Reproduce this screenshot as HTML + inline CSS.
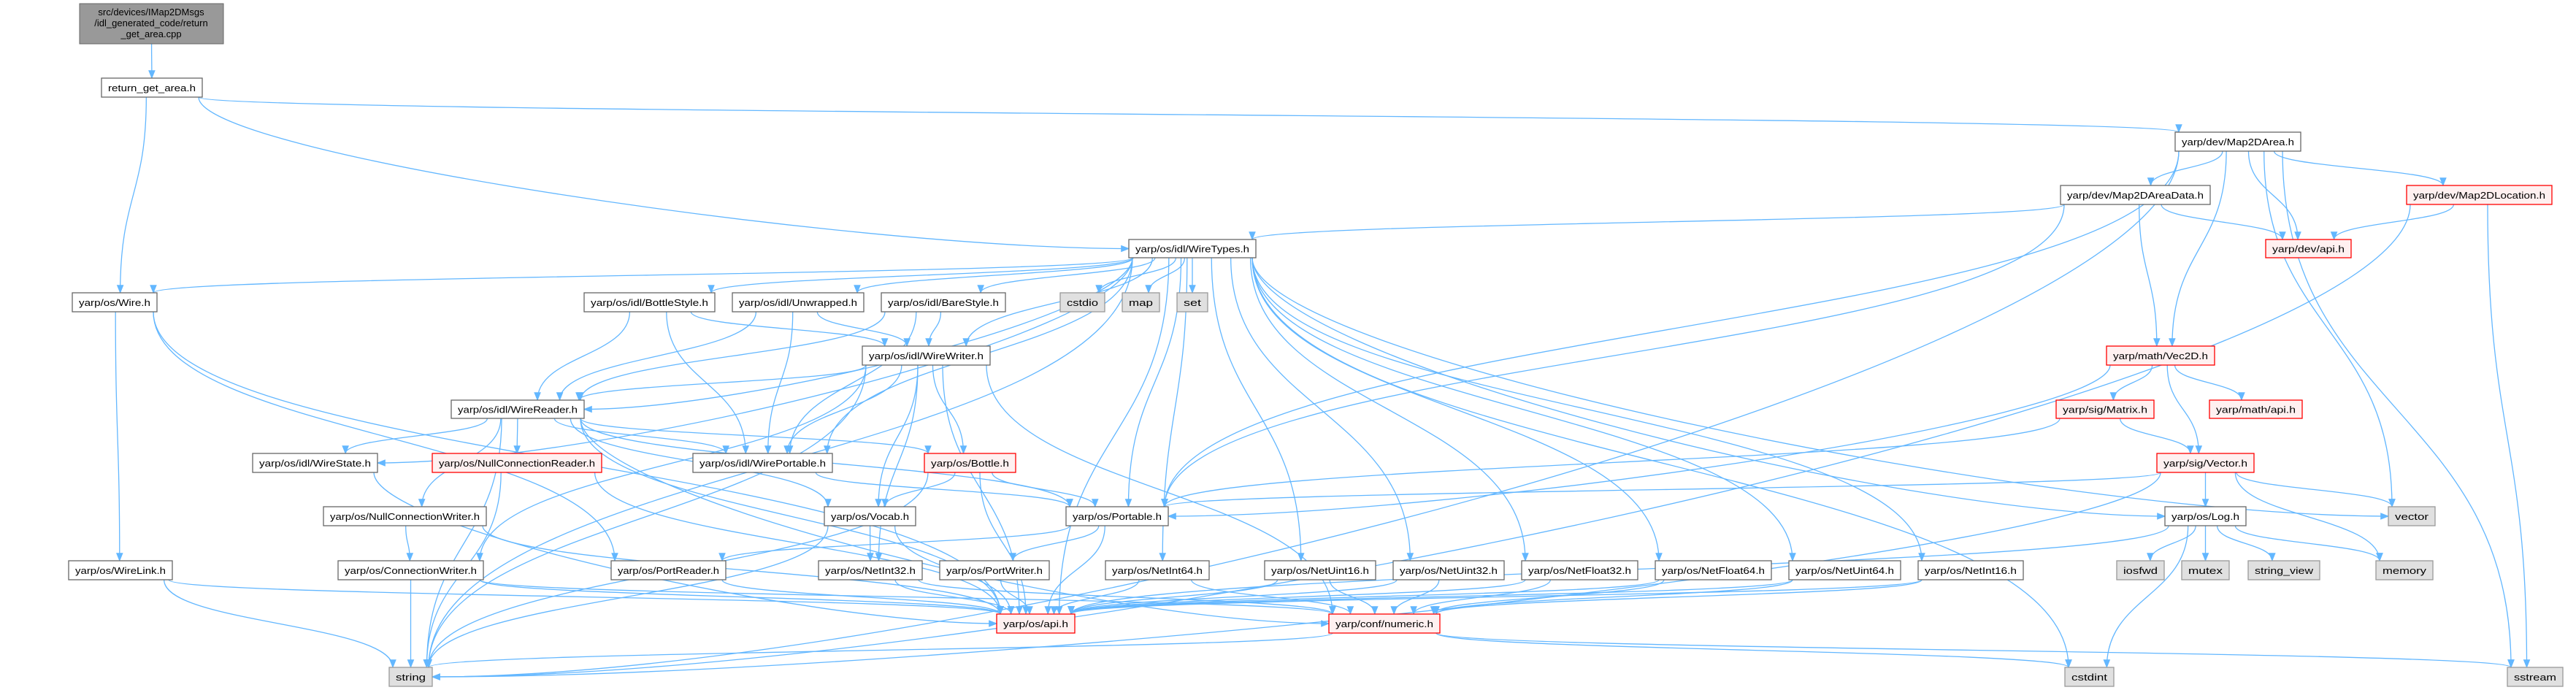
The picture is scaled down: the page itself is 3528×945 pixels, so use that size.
<!DOCTYPE html>
<html><head><meta charset="utf-8"><style>
html,body{margin:0;padding:0;background:#fff;width:3528px;height:945px;overflow:hidden}
svg{display:block}
text{font-family:"Liberation Sans","DejaVu Sans",sans-serif;font-size:13px;fill:#000}
</style></head><body>
<svg id="g" width="3528" height="945" viewBox="0 0 3528 945" xmlns="http://www.w3.org/2000/svg">
<defs><marker id="a" viewBox="0 0 10 10" refX="9" refY="5" markerWidth="12" markerHeight="12" markerUnits="userSpaceOnUse" orient="auto"><path d="M0,1 L10,5 L0,9 z" fill="#63b7ff"/></marker></defs>
<g id="edges" fill="none" stroke="#63b7ff" stroke-width="1.3"></g>
<g id="nodes">
<rect x="109" y="5" width="197" height="55" fill="#999" stroke="#666"/>
<text x="207" y="21" text-anchor="middle">src/devices/IMap2DMsgs</text>
<text x="207" y="36" text-anchor="middle">/idl_generated_code/return</text>
<text x="207" y="51" text-anchor="middle">_get_area.cpp</text>
</g>
</svg>
<script>
var N={
rga:["return_get_area.h",139,107,277,133,0],
wire:["yarp/os/Wire.h",99,401,215,427,0],
m2a:["yarp/dev/Map2DArea.h",2979,181,3151,207,0],
m2ad:["yarp/dev/Map2DAreaData.h",2822,254,3027,280,0],
m2l:["yarp/dev/Map2DLocation.h",3296,254,3495,280,1],
devapi:["yarp/dev/api.h",3103,328,3220,353,1],
wt:["yarp/os/idl/WireTypes.h",1546,328,1720,353,0],
bs:["yarp/os/idl/BottleStyle.h",800,401,979,427,0],
unw:["yarp/os/idl/Unwrapped.h",1003,401,1183,427,0],
bare:["yarp/os/idl/BareStyle.h",1207,401,1377,427,0],
cstdio:["cstdio",1452,401,1513,427,2],
map:["map",1537,401,1588,427,2],
set:["set",1612,401,1654,427,2],
ww:["yarp/os/idl/WireWriter.h",1181,474,1356,500,0],
vec2d:["yarp/math/Vec2D.h",2885,474,3033,500,1],
wr:["yarp/os/idl/WireReader.h",618,548,800,573,0],
matrix:["yarp/sig/Matrix.h",2816,548,2950,573,1],
mathapi:["yarp/math/api.h",3026,548,3153,573,1],
ws:["yarp/os/idl/WireState.h",346,621,517,647,0],
ncr:["yarp/os/NullConnectionReader.h",592,621,824,647,1],
wp:["yarp/os/idl/WirePortable.h",949,621,1140,647,0],
bottle:["yarp/os/Bottle.h",1266,621,1391,647,1],
vector:["yarp/sig/Vector.h",2954,621,3087,647,1],
ncw:["yarp/os/NullConnectionWriter.h",443,694,666,720,0],
vocab:["yarp/os/Vocab.h",1129,694,1254,720,0],
portable:["yarp/os/Portable.h",1460,694,1600,720,0],
log:["yarp/os/Log.h",2965,694,3076,720,0],
svector:["vector",3271,694,3335,720,2],
wl:["yarp/os/WireLink.h",94,768,236,794,0],
cw:["yarp/os/ConnectionWriter.h",463,768,662,794,0],
pr:["yarp/os/PortReader.h",837,768,994,794,0],
ni32:["yarp/os/NetInt32.h",1121,768,1263,794,0],
pw:["yarp/os/PortWriter.h",1287,768,1437,794,0],
ni64:["yarp/os/NetInt64.h",1514,768,1656,794,0],
nu16:["yarp/os/NetUint16.h",1732,768,1884,794,0],
nu32:["yarp/os/NetUint32.h",1908,768,2060,794,0],
nf32:["yarp/os/NetFloat32.h",2084,768,2243,794,0],
nf64:["yarp/os/NetFloat64.h",2267,768,2426,794,0],
nu64:["yarp/os/NetUint64.h",2450,768,2603,794,0],
ni16:["yarp/os/NetInt16.h",2627,768,2771,794,0],
iosfwd:["iosfwd",2899,768,2964,794,2],
mutex:["mutex",2988,768,3053,794,2],
sv:["string_view",3079,768,3177,794,2],
memory:["memory",3254,768,3332,794,2],
osapi:["yarp/os/api.h",1365,841,1472,867,1],
numeric:["yarp/conf/numeric.h",1820,841,1972,867,1],
string:["string",533,914,592,940,2],
cstdint:["cstdint",2828,914,2895,940,2],
sstream:["sstream",3434,914,3510,940,2]
};
N.src=["",109,5,306,60,3];
var E=[["src","rga"],["rga","wire"],["rga","wt"],["rga","m2a"],
["m2a","m2ad"],["m2a","devapi"],["m2a","vec2d"],["m2a","m2l"],["m2a","svector"],["m2a","sstream"],["m2a","string"],["m2a","portable"],
["m2ad","wt"],["m2ad","devapi"],["m2ad","vec2d"],["m2ad","portable"],
["m2l","devapi"],["m2l","sstream"],["m2l","string"],
["wt","wire"],["wt","bs"],["wt","unw"],["wt","bare"],["wt","cstdio"],["wt","map"],["wt","set"],["wt","ww"],["wt","wr"],["wt","ws"],["wt","wp"],["wt","string"],["wt","svector"],["wt","log"],["wt","cstdint"],["wt","ni64"],["wt","nu16"],["wt","nu32"],["wt","nf32"],["wt","nf64"],["wt","nu64"],["wt","ni16"],["wt","osapi"],["wt","portable"],
["bs","wr"],["bs","ww"],["bs","wp"],["unw","wr"],["unw","ww"],["unw","wp"],["bare","wr"],["bare","ww"],["bare","wp"],
["ww","wr"],["ww","wp"],["ww","bottle"],["ww","vocab"],["ww","ni32"],["ww","cw"],["ww","osapi"],["ww","numeric"],["ww","string"],
["wr","ws"],["wr","ncr"],["wr","ncw"],["wr","wp"],["wr","bottle"],["wr","vocab"],["wr","string"],["wr","osapi"],["wr","numeric"],["wr","portable"],
["wire","wl"],["wire","pr"],["wire","osapi"],["wl","string"],["wl","osapi"],
["ws","osapi"],["ncr","osapi"],["ncr","string"],["ncw","cw"],["ncw","osapi"],
["cw","string"],["cw","osapi"],["cw","numeric"],
["wp","portable"],["bottle","vocab"],["bottle","portable"],["bottle","string"],["bottle","osapi"],
["vocab","ni32"],["vocab","string"],["vocab","osapi"],
["portable","pr"],["portable","pw"],["portable","osapi"],
["pr","osapi"],["pw","osapi"],["ni32","osapi"],["ni32","numeric"],["ni64","osapi"],["ni64","numeric"],
["nu16","osapi"],["nu16","numeric"],["nu32","osapi"],["nu32","numeric"],["nf32","osapi"],["nf32","numeric"],
["nf64","osapi"],["nf64","numeric"],["nu64","osapi"],["nu64","numeric"],["ni16","osapi"],["ni16","numeric"],
["numeric","string"],["numeric","cstdint"],["numeric","sstream"],
["vec2d","matrix"],["vec2d","mathapi"],["vec2d","vector"],["vec2d","portable"],
["matrix","vector"],["matrix","portable"],
["vector","log"],["vector","svector"],["vector","memory"],["vector","portable"],["vector","string"],
["log","iosfwd"],["log","mutex"],["log","sv"],["log","memory"],["log","cstdint"],["log","osapi"]];
var NS="http://www.w3.org/2000/svg",eg=document.getElementById("edges"),ng=document.getElementById("nodes");
function el(t,a,p){var e=document.createElementNS(NS,t);for(var k in a)e.setAttribute(k,a[k]);p.appendChild(e);return e;}
E.forEach(function(e){var s=N[e[0]],t=N[e[1]];
var scx=(s[1]+s[3])/2,tcx=(t[1]+t[3])/2;
var sx=Math.max(s[1]+5,Math.min(s[3]-5,scx+(tcx-scx)*0.15)),sy=s[4];
var tx=Math.max(t[1]+5,Math.min(t[3]-5,tcx+(scx-tcx)*0.15)),ty=t[2];
if(t[2]>=s[4]){
var dy=ty-sy,d;
if(Math.abs(tx-sx)>3*dy && dy>150){ // long horizontal: enter from side
 ty=(t[2]+t[4])/2; tx=tx>sx? t[1]:t[3]; if(tx===t[1]&&sx>t[3]) tx=t[3];
 d="M"+sx+","+sy+" C"+sx+","+(sy+dy*0.4)+" "+(tx+(sx-tx)*0.3)+","+ty+" "+tx+","+ty;
}else d="M"+sx+","+sy+" C"+sx+","+(sy+dy*0.5)+" "+tx+","+(ty-dy*0.5)+" "+tx+","+ty;
el("path",{d:d,"marker-end":"url(#a)"},eg);}
});
for(var k in N){var n=N[k];if(n[5]===3)continue;
var st=n[5]==1?{f:"#fff0f0",s:"#ff0000"}:n[5]==2?{f:"#e0e0e0",s:"#999"}:{f:"#fff",s:"#666"};
el("rect",{x:n[1],y:n[2],width:n[3]-n[1],height:n[4]-n[2],fill:st.f,stroke:st.s,"stroke-width":1.3},ng);
var tx=el("text",{x:(n[1]+n[3])/2,y:(n[2]+n[4])/2+5,"text-anchor":"middle",textLength:Math.max(10,n[3]-n[1]-18),lengthAdjust:"spacingAndGlyphs"},ng);
tx.textContent=n[0];}
</script>
</body></html>
